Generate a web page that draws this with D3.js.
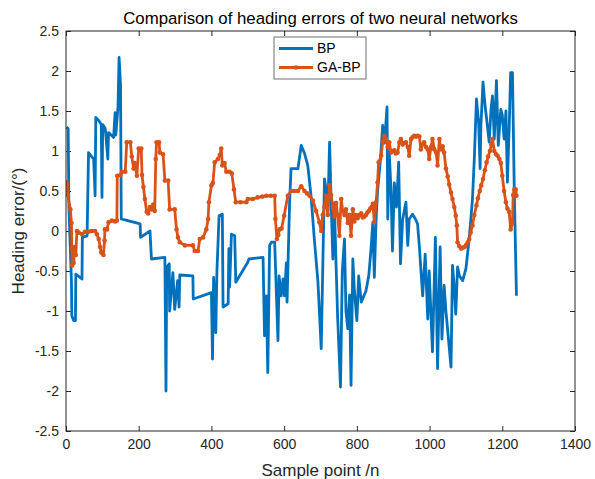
<!DOCTYPE html>
<html>
<head>
<meta charset="utf-8">
<script src="https://cdn.jsdelivr.net/npm/d3@7"></script>
<style>
  body { margin: 0; background: #fff; }
  svg { display: block; }
  text { font-family: "Liberation Sans", Arial, Helvetica, sans-serif; }
</style>
</head>
<body>
<svg id="chart" width="595" height="479"></svg>
<script>
// Heading error per sample point for the two networks: [sample index, error in degrees]
const seriesNames = ["BP", "GA-BP"];
const xTicks = [0, 200, 400, 600, 800, 1000, 1200, 1400];
const yTicks = [-2.5, -2, -1.5, -1, -0.5, 0, 0.5, 1, 1.5, 2, 2.5];
const yTickLabels = ["-2.5", "-2", "-1.5", "-1", "-0.5", "0", "0.5", "1", "1.5", "2", "2.5"];

const bpPoints = [
  [1,1.30],[6,1.28],[8,0.30],[15,-0.64],[16,-1.06],[21,-1.12],[26,-1.12],[27,-0.54],[36,-0.57],[44,-0.60],
  [45,-0.08],[58,-0.06],[62,0.98],[76,0.90],[80,0.44],[82,1.42],[90,1.38],[97,1.33],[99,0.42],[101,1.33],
  [108,1.28],[115,0.90],[117,1.23],[131,1.17],[135,1.48],[137,1.20],[143,1.55],[146,2.17],[150,1.82],[152,0.15],
  [162,0.14],[204,0.09],[205,-0.08],[231,0.00],[235,-0.35],[272,-0.33],[275,-2.00],[277,-0.45],[284,-0.41],[285,-1.00],
  [294,-0.52],[299,-0.98],[307,-0.62],[311,-0.95],[313,-0.55],[349,-0.56],[350,-0.85],[400,-0.77],[403,-1.60],[406,-0.58],
  [412,-1.27],[415,-0.52],[421,0.19],[430,0.21],[432,-0.95],[446,-0.91],[448,-0.22],[450,-0.70],[455,-0.04],[464,-0.06],
  [467,-0.64],[500,-0.39],[503,-0.35],[542,-0.33],[546,-1.31],[551,-0.81],[555,-1.77],[560,-0.18],[565,-0.14],[574,-0.14],
  [583,-1.37],[586,-0.56],[592,-0.81],[597,-0.60],[601,-0.81],[606,-0.40],[608,-0.89],[615,0.36],[619,0.78],[638,0.78],
  [647,1.07],[656,0.97],[665,0.82],[674,0.44],[683,-0.10],[693,-0.64],[702,-1.47],[706,-0.52],[711,0.65],[716,0.50],
  [720,0.20],[725,1.11],[729,0.40],[734,-0.35],[738,0.35],[743,-0.45],[747,-1.06],[755,-1.95],[760,-0.50],[766,-0.10],
  [770,-1.00],[775,-1.22],[780,-0.80],[784,-1.93],[789,-0.35],[793,-0.73],[800,-1.12],[805,-0.56],[812,-0.89],[825,-0.75],
  [833,-0.55],[839,-0.22],[844,0.11],[848,-0.58],[853,0.15],[857,0.50],[865,0.90],[871,1.32],[876,1.10],[883,1.55],
  [885,0.15],[889,0.99],[894,0.50],[898,-0.25],[903,0.60],[909,0.30],[915,0.86],[920,-0.41],[926,0.15],[935,0.36],
  [940,-0.18],[944,0.15],[953,0.21],[961,0.15],[967,0.09],[972,-0.20],[981,-0.81],[988,-0.29],[995,-1.10],[999,-0.50],
  [1008,-1.51],[1016,-0.08],[1022,-1.72],[1029,-0.20],[1034,-1.35],[1040,-0.68],[1045,-1.00],[1059,-1.70],[1063,-0.43],[1068,-0.70],
  [1072,-1.04],[1077,-0.45],[1082,-0.56],[1091,-0.62],[1100,-0.47],[1109,-0.10],[1118,0.40],[1123,0.90],[1129,1.65],[1135,1.35],
  [1139,0.78],[1141,1.30],[1147,1.86],[1153,1.55],[1157,1.40],[1164,1.11],[1169,1.52],[1173,1.69],[1178,1.15],[1184,1.88],
  [1189,1.07],[1196,1.52],[1200,1.45],[1205,1.15],[1210,1.50],[1214,0.61],[1219,1.30],[1223,1.98],[1228,1.98],[1233,0.50],
  [1239,-0.81]
];

const gaPoints = [
  [0,0.61],[3,0.59],[5,0.45],[12,0.27],[15,0.10],[16,-0.22],[17,-0.43],[21,-0.40],[24,-0.20],[27,-0.30],
  [30,0.00],[35,-0.02],[44,-0.04],[52,-0.01],[62,-0.01],[70,0.00],[80,0.00],[85,-0.04],[90,-0.10],[94,-0.20],
  [97,-0.27],[103,-0.30],[106,-0.12],[107,0.02],[113,0.02],[117,0.11],[126,0.13],[135,0.12],[140,0.13],[141,0.69],
  [150,0.70],[154,0.74],[163,0.74],[167,1.11],[177,1.11],[181,0.93],[186,0.78],[189,0.85],[195,0.69],[200,1.03],
  [207,1.03],[209,0.70],[213,0.55],[217,0.40],[222,0.24],[226,0.22],[231,0.30],[235,0.27],[240,0.33],[244,0.25],
  [247,0.90],[249,1.11],[256,1.11],[258,0.98],[267,0.96],[272,0.63],[281,0.63],[285,0.27],[299,0.27],[304,0.02],
  [308,-0.08],[313,-0.14],[327,-0.18],[349,-0.18],[354,-0.25],[363,-0.25],[368,-0.10],[377,-0.08],[386,0.02],[391,0.15],
  [393,0.36],[400,0.57],[404,0.60],[409,0.86],[418,0.90],[423,0.95],[427,1.03],[430,0.82],[436,0.85],[441,0.74],
  [450,0.74],[456,0.72],[462,0.52],[467,0.36],[480,0.36],[496,0.36],[500,0.40],[514,0.40],[527,0.42],[540,0.43],
  [551,0.44],[563,0.44],[574,0.44],[576,0.15],[580,-0.10],[584,-0.05],[587,0.02],[593,0.03],[600,0.19],[610,0.44],
  [619,0.50],[628,0.50],[638,0.50],[647,0.56],[656,0.50],[663,0.47],[670,0.44],[679,0.38],[688,0.25],[697,0.11],
  [702,0.00],[706,0.20],[711,0.30],[716,0.44],[720,0.20],[725,0.57],[729,0.45],[734,0.30],[738,0.18],[743,0.35],
  [747,0.20],[752,-0.06],[757,0.40],[761,0.25],[766,0.20],[770,0.27],[775,0.10],[780,0.20],[784,-0.06],[789,0.27],
  [793,0.12],[798,0.20],[802,0.16],[807,0.20],[812,0.22],[816,0.17],[821,0.18],[825,0.20],[829,0.23],[833,0.25],
  [837,0.28],[841,0.30],[844,0.34],[848,0.11],[853,0.36],[857,0.61],[860,0.86],[867,0.94],[871,1.11],[876,1.19],
  [880,1.15],[885,1.05],[889,1.11],[894,0.98],[898,1.00],[903,1.01],[907,0.97],[912,0.98],[917,1.11],[921,1.15],
  [926,1.08],[930,1.10],[935,1.11],[940,1.05],[944,0.94],[949,1.15],[953,1.17],[958,1.19],[963,1.18],[967,1.19],
  [972,1.18],[976,1.02],[980,1.08],[985,1.11],[990,1.05],[995,1.02],[999,0.90],[1004,1.05],[1008,1.15],[1013,1.02],
  [1018,0.98],[1022,0.82],[1027,1.15],[1031,1.02],[1036,1.06],[1040,0.98],[1045,0.78],[1050,0.68],[1054,0.58],[1059,0.48],
  [1063,0.40],[1068,0.30],[1072,0.19],[1075,0.07],[1077,-0.14],[1082,-0.19],[1087,-0.22],[1091,-0.21],[1096,-0.20],[1100,-0.18],
  [1105,-0.14],[1109,-0.10],[1113,-0.02],[1118,0.07],[1123,0.20],[1129,0.32],[1133,0.41],[1138,0.50],[1142,0.57],[1147,0.65],
  [1152,0.76],[1157,0.86],[1161,0.93],[1166,1.00],[1170,1.08],[1173,1.15],[1178,1.00],[1183,0.96],[1187,0.94],[1192,0.90],
  [1196,0.85],[1200,0.69],[1205,0.50],[1210,0.36],[1214,0.28],[1219,0.24],[1223,0.02],[1228,0.10],[1230,0.45],[1233,0.52],
  [1237,0.52],[1239,0.44]
];

const colors = { "BP": "#0072BD", "GA-BP": "#D95319" };
const axisColor = "#262626";

const plot = { left: 66, right: 575, top: 31, bottom: 431 };

const svg = d3.select("#chart");

const x = d3.scaleLinear().domain([0, 1400]).range([plot.left, plot.right]);
const y = d3.scaleLinear().domain([-2.5, 2.5]).range([plot.bottom, plot.top]);

// plot background
svg.append("rect")
  .attr("x", plot.left).attr("y", plot.top)
  .attr("width", plot.right - plot.left).attr("height", plot.bottom - plot.top)
  .attr("fill", "#fff");

// axes with inward ticks on all four sides
function styleAxis(g) {
  g.select(".domain").remove();
  g.selectAll(".tick line").attr("stroke", axisColor).attr("stroke-width", 1);
  g.selectAll(".tick text").attr("fill", axisColor).style("font-size", "14px")
    .style("font-family", '"Liberation Sans", Arial, sans-serif');
}

svg.append("g")
  .attr("transform", `translate(0,${plot.bottom})`)
  .call(d3.axisBottom(x).tickValues(xTicks).tickFormat(d3.format("d"))
    .tickSizeInner(-5).tickSizeOuter(0).tickPadding(8))
  .call(styleAxis);

svg.append("g")
  .attr("transform", `translate(0,${plot.top})`)
  .call(d3.axisTop(x).tickValues(xTicks).tickFormat("")
    .tickSizeInner(-5).tickSizeOuter(0))
  .call(styleAxis);

svg.append("g")
  .attr("transform", `translate(${plot.left},0)`)
  .call(d3.axisLeft(y).tickValues(yTicks).tickFormat((d, i) => yTickLabels[i])
    .tickSizeInner(-5).tickSizeOuter(0).tickPadding(7))
  .call(styleAxis);

svg.append("g")
  .attr("transform", `translate(${plot.right},0)`)
  .call(d3.axisRight(y).tickValues(yTicks).tickFormat("")
    .tickSizeInner(-5).tickSizeOuter(0))
  .call(styleAxis);

// clip region for the data
svg.append("clipPath").attr("id", "plotClip")
  .append("rect")
  .attr("x", plot.left).attr("y", plot.top)
  .attr("width", plot.right - plot.left).attr("height", plot.bottom - plot.top);

const line = d3.line().x(d => x(d[0])).y(d => y(d[1]));

const dataLayer = svg.append("g").attr("clip-path", "url(#plotClip)");

dataLayer.append("path")
  .datum(bpPoints)
  .attr("d", line)
  .attr("fill", "none")
  .attr("stroke", colors["BP"])
  .attr("stroke-width", 2.8)
  .attr("stroke-linejoin", "round");

dataLayer.append("path")
  .datum(gaPoints)
  .attr("d", line)
  .attr("fill", "none")
  .attr("stroke", colors["GA-BP"])
  .attr("stroke-width", 2.8)
  .attr("stroke-linejoin", "round");

dataLayer.selectAll("circle.ga")
  .data(gaPoints)
  .join("circle")
  .attr("class", "ga")
  .attr("cx", d => x(d[0]))
  .attr("cy", d => y(d[1]))
  .attr("r", 2.3)
  .attr("fill", colors["GA-BP"]);

// axes box
svg.append("rect")
  .attr("x", plot.left).attr("y", plot.top)
  .attr("width", plot.right - plot.left).attr("height", plot.bottom - plot.top)
  .attr("fill", "none")
  .attr("stroke", axisColor)
  .attr("stroke-width", 1);

// title and axis labels
svg.append("text")
  .attr("x", (plot.left + plot.right) / 2).attr("y", 24)
  .attr("text-anchor", "middle")
  .attr("fill", "#000")
  .style("font-size", "16.8px")
  .text("Comparison of heading errors of two neural networks");

svg.append("text")
  .attr("x", (plot.left + plot.right) / 2).attr("y", 476)
  .attr("text-anchor", "middle")
  .attr("fill", axisColor)
  .style("font-size", "17px")
  .text("Sample point /n");

svg.append("text")
  .attr("transform", `translate(24,${(plot.top + plot.bottom) / 2}) rotate(-90)`)
  .attr("text-anchor", "middle")
  .attr("fill", axisColor)
  .style("font-size", "17px")
  .text("Heading error/(°)");

// legend
const legend = svg.append("g").attr("transform", "translate(274,37)");
legend.append("rect")
  .attr("width", 92).attr("height", 42)
  .attr("fill", "#fff")
  .attr("stroke", "#6f6f6f")
  .attr("stroke-width", 1);

seriesNames.forEach((name, i) => {
  const ly = 11.5 + i * 19;
  legend.append("line")
    .attr("x1", 5).attr("x2", 39).attr("y1", ly).attr("y2", ly)
    .attr("stroke", colors[name]).attr("stroke-width", 2.8);
  if (name === "GA-BP") {
    legend.append("circle").attr("cx", 22).attr("cy", ly).attr("r", 2.3)
      .attr("fill", colors[name]);
  }
  legend.append("text")
    .attr("x", 43).attr("y", ly).attr("dy", "0.35em")
    .attr("fill", "#000")
    .style("font-size", "14px")
    .text(name);
});
</script>
</body>
</html>
